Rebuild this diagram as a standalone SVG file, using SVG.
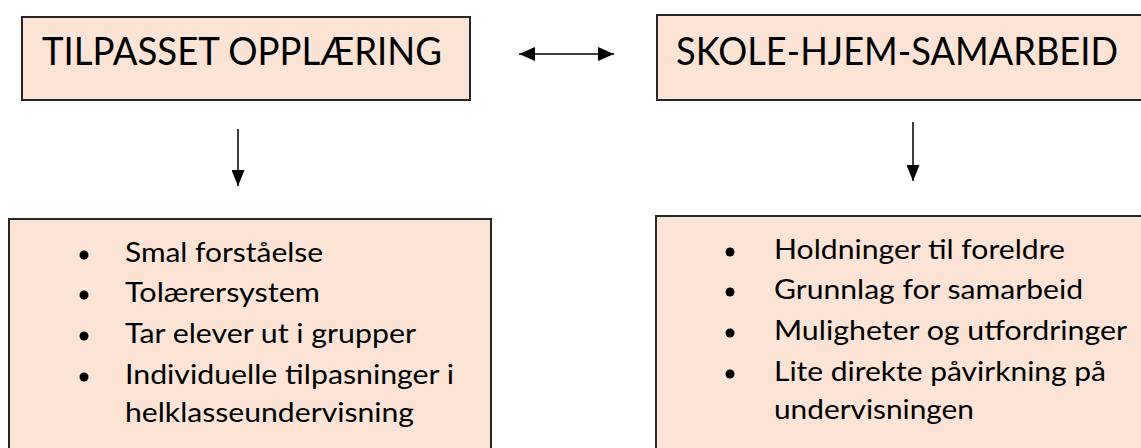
<svg xmlns="http://www.w3.org/2000/svg" width="1141" height="448" viewBox="0 0 1141 448">
<style>
.box{fill:#FBE4D5;stroke:#262626;stroke-width:2}
.title{font-family:Lato,"Noto Sans","Liberation Sans",sans-serif;font-size:38px;fill:#000}
.item{font-family:Lato,"Noto Sans","Liberation Sans",sans-serif;font-size:26px;fill:#000}
.bul{fill:#000}
.conn{stroke:#000;stroke-width:1.5;fill:none}
</style>
<defs>
<marker id="ah" viewBox="0 0 16 14" refX="16" refY="7" markerWidth="16" markerHeight="14" markerUnits="userSpaceOnUse" orient="auto-start-reverse">
<path d="M0,0 L16,7 L0,14 Z" fill="#000"/>
</marker>
<marker id="ahv" viewBox="0 0 16 13" refX="16" refY="6.5" markerWidth="16" markerHeight="13" markerUnits="userSpaceOnUse" orient="auto">
<path d="M0,0 L16,6.5 L0,13 Z" fill="#000"/>
</marker>
</defs>
<rect width="1141" height="448" fill="#fff"/>
<g id="tilpasset">
<rect class="box" x="22" y="17" width="448" height="83"/>
<text class="title" x="42" y="65" textLength="400" lengthAdjust="spacingAndGlyphs">TILPASSET OPPLÆRING</text>
</g>
<g id="skole">
<rect class="box" x="657" y="15" width="500" height="85"/>
<text class="title" x="676" y="65" textLength="442" lengthAdjust="spacingAndGlyphs">SKOLE-HJEM-SAMARBEID</text>
</g>
<g id="tilpasset-list">
<rect class="box" x="9" y="219" width="482" height="240"/>
<circle class="bul" cx="84" cy="255" r="4.5"/>
<circle class="bul" cx="84" cy="295" r="4.5"/>
<circle class="bul" cx="84" cy="336" r="4.5"/>
<circle class="bul" cx="84" cy="377" r="4.5"/>
<text class="item" x="125" y="262" textLength="198" lengthAdjust="spacingAndGlyphs">Smal forståelse</text>
<text class="item" x="125" y="302" textLength="195" lengthAdjust="spacingAndGlyphs">Tolærersystem</text>
<text class="item" x="125" y="343" textLength="291" lengthAdjust="spacingAndGlyphs">Tar elever ut i grupper</text>
<text class="item" x="125" y="384" textLength="329" lengthAdjust="spacingAndGlyphs">Individuelle tilpasninger i</text>
<text class="item" x="125" y="422" textLength="289" lengthAdjust="spacingAndGlyphs">helklasseundervisning</text>
</g>
<g id="skole-list">
<rect class="box" x="656" y="216" width="500" height="240"/>
<circle class="bul" cx="730" cy="252" r="4.5"/>
<circle class="bul" cx="730" cy="292" r="4.5"/>
<circle class="bul" cx="730" cy="333" r="4.5"/>
<circle class="bul" cx="730" cy="374" r="4.5"/>
<text class="item" x="774" y="259" textLength="291" lengthAdjust="spacingAndGlyphs">Holdninger til foreldre</text>
<text class="item" x="774" y="299" textLength="309" lengthAdjust="spacingAndGlyphs">Grunnlag for samarbeid</text>
<text class="item" x="774" y="340" textLength="353" lengthAdjust="spacingAndGlyphs">Muligheter og utfordringer</text>
<text class="item" x="774" y="381" textLength="332" lengthAdjust="spacingAndGlyphs">Lite direkte påvirkning på</text>
<text class="item" x="774" y="419" textLength="200" lengthAdjust="spacingAndGlyphs">undervisningen</text>
</g>
<g id="connectors">
<line class="conn" x1="519" y1="54" x2="614" y2="54" marker-start="url(#ah)" marker-end="url(#ah)"/>
<line class="conn" x1="238" y1="129" x2="238" y2="186" marker-end="url(#ahv)"/>
<line class="conn" x1="913" y1="122" x2="913" y2="181" marker-end="url(#ahv)"/>
</g>
</svg>
